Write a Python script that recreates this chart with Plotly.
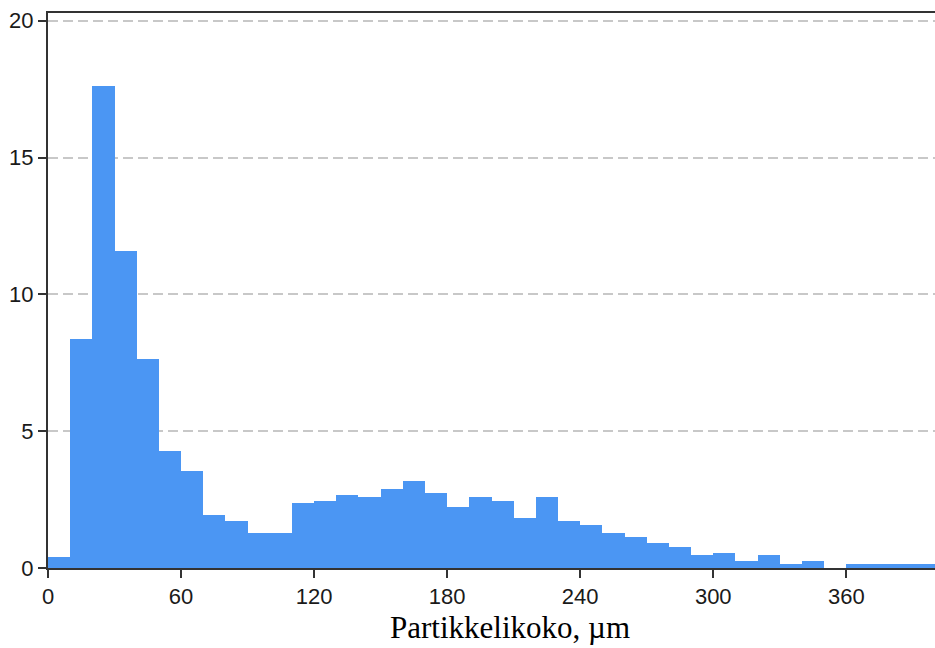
import plotly.graph_objects as go

# Histogram data: bin left edges (µm) and heights (%)
bin_left = list(range(0, 400, 10))
bin_width = 10
values = [0.41, 8.38, 17.6, 11.6, 7.65, 4.28, 3.55, 1.95, 1.73, 1.29,
          1.29, 2.38, 2.46, 2.66, 2.60, 2.88, 3.19, 2.74, 2.23, 2.60,
          2.46, 1.81, 2.60, 1.73, 1.57, 1.29, 1.14, 0.92, 0.78, 0.47,
          0.56, 0.26, 0.47, 0.13, 0.27, 0.0, 0.13, 0.13, 0.13, 0.13]
x_ticks = [0, 60, 120, 180, 240, 300, 360]
y_ticks = [0, 5, 10, 15, 20]
x_title = "Partikkelikoko, µm"

centers = [b + bin_width / 2 for b in bin_left]

fig = go.Figure()
fig.add_trace(go.Bar(
    x=centers, y=values, width=bin_width,
    marker=dict(color="#4b96f3", line=dict(width=0)),
    hoverinfo="x+y",
))

tick_font = dict(family="Liberation Sans, Arial, sans-serif", size=22, color="#1a1a1a")

fig.update_layout(
    width=935, height=648,
    margin=dict(l=48, r=0, t=13, b=80),
    paper_bgcolor="white", plot_bgcolor="white",
    showlegend=False, bargap=0,
    xaxis=dict(
        range=[0, 400], tickmode="array", tickvals=x_ticks,
        ticks="outside", ticklen=8, tickwidth=2, tickcolor="#333333",
        showline=True, linecolor="#333333", linewidth=2, mirror=True,
        showgrid=False, zeroline=False, layer="below traces",
        tickfont=tick_font,
    ),
    yaxis=dict(
        range=[0, 20.28], tickmode="array", tickvals=y_ticks,
        ticks="outside", ticklen=8, tickwidth=2, tickcolor="#333333",
        showline=True, linecolor="#333333", linewidth=2,
        showgrid=True, gridcolor="#c8c8c8", gridwidth=1.5, griddash="10px,5px",
        zeroline=False, layer="below traces",
        tickfont=tick_font,
    ),
    annotations=[dict(
        text=x_title, xref="paper", yref="paper",
        x=0.521, y=-0.108, xanchor="center", yanchor="middle",
        showarrow=False,
        font=dict(family="Liberation Serif, Times New Roman, serif", size=31, color="black"),
    )],
)

fig.write_html("out.html")
